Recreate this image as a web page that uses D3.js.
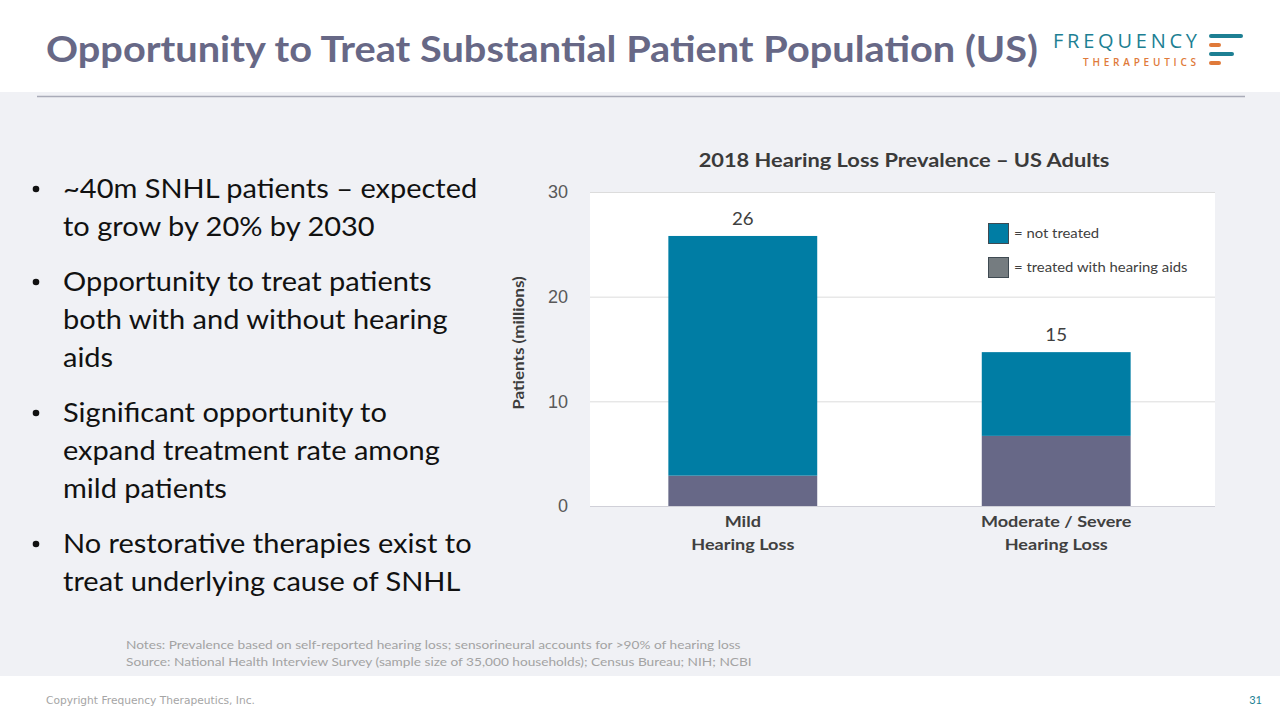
<!DOCTYPE html>
<html><head><meta charset="utf-8">
<script src="https://cdn.jsdelivr.net/npm/d3@7"></script>
<style>
html,body{margin:0;padding:0;background:#fff;}
svg{display:block;}
</style></head>
<body>
<svg id="c" width="1280" height="720"></svg>
<script>
const categories = [["Mild", "Hearing Loss"], ["Moderate / Severe", "Hearing Loss"]];
const treated = [2.9, 6.7];
const notTreated = [22.9, 8.0];
const totalLabels = ["26", "15"];
const yTicks = [0, 10, 20, 30];
const seriesNames = ["= not treated", "= treated with hearing aids"];
const bullets = [
  ["~40m SNHL patients \u2013 expected", "to grow by 20% by 2030"],
  ["Opportunity to treat patients", "both with and without hearing", "aids"],
  ["Significant opportunity to", "expand treatment rate among", "mild patients"],
  ["No restorative therapies exist to", "treat underlying cause of SNHL"]
];
const notes = [
  "Notes:  Prevalence based on self-reported hearing loss; sensorineural accounts for >90% of hearing loss",
  "Source:  National Health Interview Survey (sample size of 35,000 households); Census Bureau; NIH; NCBI"
];

const svg = d3.select("#c");
const font = "Lato, 'Open Sans', sans-serif";
const teal = "#007DA4", grey = "#676887", legendGrey = "#757c80";

// place text with horizontal stretch (Calibri is wider than the available fonts)
function place(sel, x, y, sx) {
  return sel.attr("transform", `translate(${x},${y}) scale(${sx},1)`);
}

// backgrounds
svg.append("rect").attr("x",0).attr("y",0).attr("width",1280).attr("height",720).attr("fill","#fff");
svg.append("rect").attr("x",0).attr("y",92).attr("width",1280).attr("height",584).attr("fill","#F0F1F5");
svg.append("line").attr("x1",37).attr("x2",1245).attr("y1",96.5).attr("y2",96.5).attr("stroke","#a9abb8").attr("stroke-width",1.3);

// title
svg.append("text").attr("x",46).attr("y",62).attr("font-family",font).attr("font-weight",700)
  .attr("font-size",37).attr("fill","#676886")
  .attr("textLength",992).attr("lengthAdjust","spacingAndGlyphs")
  .text("Opportunity to Treat Substantial Patient Population (US)");

// logo
const logo = svg.append("g");
logo.append("text").attr("x",1053).attr("y",47.5).attr("font-family","'Open Sans', sans-serif").attr("font-size",20)
  .attr("fill","#1d7f93").attr("textLength",144).attr("lengthAdjust","spacing").text("FREQUENCY");
logo.append("text").attr("x",1083).attr("y",66).attr("font-family","'Open Sans', sans-serif").attr("font-weight",600).attr("font-size",10)
  .attr("fill","#e07a3a").attr("textLength",113).attr("lengthAdjust","spacing").text("THERAPEUTICS");
[[36,34,"#1d7f93"],[45,12,"#e07a3a"],[54,25,"#1d7f93"],[63,12,"#e07a3a"]].forEach(b=>{
  logo.append("rect").attr("x",1209).attr("y",b[0]-2).attr("width",b[1]).attr("height",4).attr("rx",2).attr("fill",b[2]);
});

// bullets
const bl = svg.append("g");
let y = 198;
bullets.forEach((lines,i)=>{
  bl.append("circle").attr("cx",36).attr("cy",y-9).attr("r",3.3).attr("fill","#111");
  lines.forEach((t,j)=>{
    place(bl.append("text"), 63, y+j*38, 1.095).attr("font-family",font).attr("font-size",26.5)
      .attr("fill","#111").text(t);
  });
  y += lines.length*38 + 17;
});

// chart
const plot = {x0:590, x1:1215, y0:192, y1:506};
svg.append("rect").attr("x",plot.x0).attr("y",plot.y0).attr("width",plot.x1-plot.x0).attr("height",plot.y1-plot.y0).attr("fill","#fff");
const yScale = d3.scaleLinear().domain([0,30]).range([plot.y1, plot.y0]);
const xScale = d3.scaleBand().domain(d3.range(categories.length)).range([plot.x0, plot.x1-6]).paddingInner(0.525).paddingOuter(0.25);

svg.append("g").selectAll("line").data(yTicks).join("line")
  .attr("x1",plot.x0).attr("x2",plot.x1).attr("y1",d=>yScale(d)+0.5).attr("y2",d=>yScale(d)+0.5)
  .attr("stroke",d=>d===0?"#d0d0d8":"#dcdcdc").attr("stroke-width",1);

const yAxis = svg.append("g").attr("transform",`translate(${plot.x0-22},0)`)
  .call(d3.axisLeft(yScale).tickValues(yTicks).tickSize(0).tickPadding(0));
yAxis.select(".domain").remove();
yAxis.selectAll("text").attr("font-family","Arial, 'Liberation Sans', sans-serif").attr("font-size",18).attr("fill","#595959");

svg.append("text").attr("transform","translate(524,343) rotate(-90) scale(1.1,1)").attr("text-anchor","middle")
  .attr("font-family",font).attr("font-weight",700).attr("font-size",15.5).attr("fill","#3d3d3d").text("Patients (millions)");

const stackData = categories.map((c,i)=>({i, treated:treated[i], notTreated:notTreated[i]}));
const stack = d3.stack().keys(["treated","notTreated"])(stackData);
const colors = {treated:grey, notTreated:teal};
svg.append("g").selectAll("g").data(stack).join("g").attr("fill",d=>colors[d.key])
  .selectAll("rect").data(d=>d).join("rect")
  .attr("x",d=>xScale(d.data.i)).attr("width",xScale.bandwidth())
  .attr("y",d=>yScale(d[1])).attr("height",d=>yScale(d[0])-yScale(d[1]));

svg.append("g").selectAll("text").data(stackData).join("text")
  .attr("transform",d=>`translate(${xScale(d.i)+xScale.bandwidth()/2},${yScale(d.treated+d.notTreated)-11}) scale(1.1,1)`)
  .attr("text-anchor","middle").attr("font-family",font).attr("font-size",17).attr("fill","#404040")
  .text((d,i)=>totalLabels[i]);

const xl = svg.append("g");
categories.forEach((c,i)=>{
  c.forEach((t,j)=>{
    place(xl.append("text"), xScale(i)+xScale.bandwidth()/2, 527+j*23, 1.13).attr("text-anchor","middle")
      .attr("font-family",font).attr("font-weight",700).attr("font-size",16).attr("fill","#404040").text(t);
  });
});

place(svg.append("text"), 904, 167, 1.12).attr("text-anchor","middle").attr("font-family",font)
  .attr("font-weight",700).attr("font-size",19.5).attr("fill","#3a3a3a").text("2018 Hearing Loss Prevalence \u2013 US Adults");

// legend
const lg = svg.append("g");
[[teal,seriesNames[0]],[legendGrey,seriesNames[1]]].forEach((d,i)=>{
  lg.append("rect").attr("x",988.5).attr("y",223.5+i*34).attr("width",20).attr("height",20).attr("fill",d[0]).attr("stroke","#3f4a52").attr("stroke-width",1);
  place(lg.append("text"), 1014, 238+i*34, 1.1).attr("font-family",font).attr("font-size",13.5).attr("fill","#404040").text(d[1]);
});

// notes
notes.forEach((t,i)=>{
  place(svg.append("text"), 126, 649+i*17, 1.14).attr("font-family",font).attr("font-size",12).attr("fill","#a3a3a3").text(t);
});

// footer
svg.append("text").attr("x",46).attr("y",704).attr("font-family","Verdana, 'DejaVu Sans', sans-serif").attr("font-size",10).attr("fill","#a5a5a5")
  .attr("textLength",209).attr("lengthAdjust","spacingAndGlyphs").text("Copyright Frequency Therapeutics, Inc.");
svg.append("text").attr("x",1262).attr("y",704).attr("text-anchor","end").attr("font-family",font).attr("font-size",11).attr("fill","#1d7f93").text("31");
</script>
</body></html>
